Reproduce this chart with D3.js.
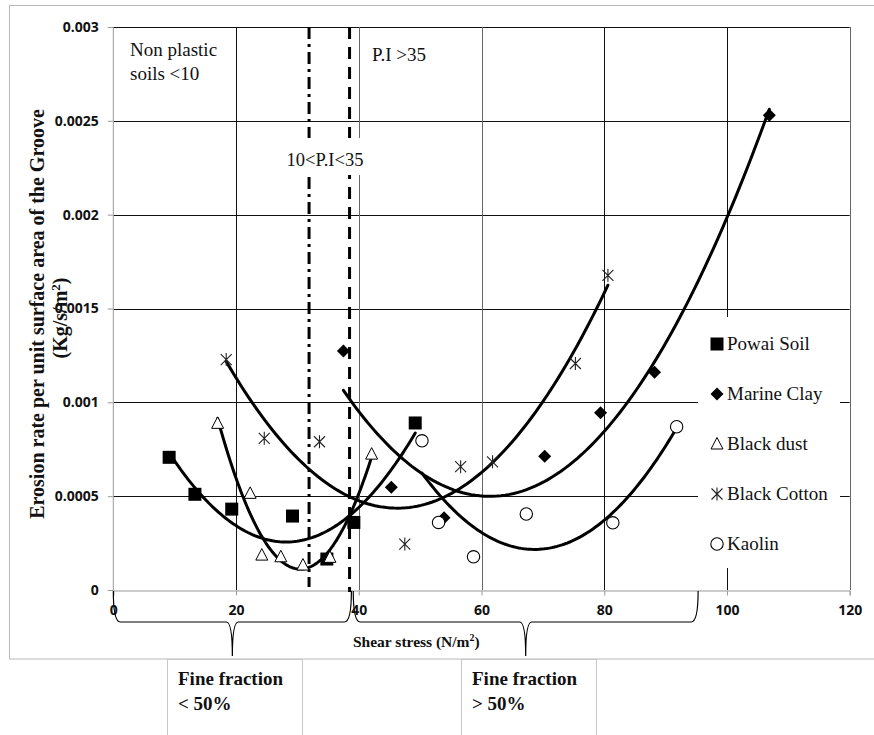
<!DOCTYPE html>
<html>
<head>
<meta charset="utf-8">
<script src="https://cdn.jsdelivr.net/npm/d3@7"></script>
<style>
    body { margin:0; background:#fff; }
    svg { display:block; }
</style>
</head>
<body>
<svg id="chart" width="874" height="735"></svg>
<script>
//DATA
const xTicks = [0, 20, 40, 60, 80, 100, 120];
const yTicks = [0, 0.0005, 0.001, 0.0015, 0.002, 0.0025, 0.003];
const yTickLabels = ["0", "0.0005", "0.001", "0.0015", "0.002", "0.0025", "0.003"];
const seriesNames = ["Powai Soil", "Marine Clay", "Black dust", "Black Cotton", "Kaolin"];

const powaiX = [9.1, 13.3, 19.3, 29.2, 34.8, 39.2, 49.2];
const powaiY = [0.000707, 0.00051, 0.000431, 0.000394, 0.000165, 0.00036, 0.00089];
const marineX = [37.5, 45.3, 53.9, 70.3, 79.4, 88.2, 106.9];
const marineY = [0.001274, 0.000547, 0.000385, 0.000713, 0.000944, 0.00116, 0.00253];
const dustX = [17.0, 22.3, 24.2, 27.3, 30.9, 35.3, 42.1];
const dustY = [0.000888, 0.000515, 0.000186, 0.000177, 0.000133, 0.000174, 0.000724];
const cottonX = [18.4, 24.6, 33.6, 47.5, 56.6, 61.8, 75.3, 80.6];
const cottonY = [0.001228, 0.000808, 0.00079, 0.000245, 0.000657, 0.000683, 0.001207, 0.001677];
const kaolinX = [50.3, 53.0, 58.7, 67.3, 81.4, 91.8];
const kaolinY = [0.000795, 0.00036, 0.000177, 0.000405, 0.000358, 0.00087];

//plasticity index boundaries (shear stress)
const piBoundaries = [31.9, 38.5];
//fine fraction braces [start, end]
const braces = [[0, 38.8], [39.1, 95.3]];

//DIMNS
const width = 874, height = 735;
const plot = { left:113.3, right:849.7, top:27, bottom:590 };
const serif = "'Liberation Serif', 'Times New Roman', serif";
const sans = "'Open Sans', 'Liberation Sans', sans-serif";

const svg = d3.select("#chart");

const x = d3.scaleLinear().domain([0, 120]).range([plot.left, plot.right]);
const y = d3.scaleLinear().domain([0, 0.003]).range([plot.bottom, plot.top]);

//helper - least squares quadratic (excel style poly 2 trendline)
function polyfit2(xs, ys){
    const S = k => d3.sum(xs, v => Math.pow(v, k));
    const T = k => d3.sum(xs, (v, i) => Math.pow(v, k) * ys[i]);
    const A = [[S(4), S(3), S(2)], [S(3), S(2), S(1)], [S(2), S(1), xs.length]];
    const b = [T(2), T(1), T(0)];
    //gaussian elimination
    for(let i = 0; i < 3; i++){
        for(let j = i + 1; j < 3; j++){
            const f = A[j][i] / A[i][i];
            for(let k = i; k < 3; k++){ A[j][k] -= f * A[i][k]; }
            b[j] -= f * b[i];
        }
    }
    const c = [0, 0, 0];
    for(let i = 2; i >= 0; i--){
        let s = b[i];
        for(let k = i + 1; k < 3; k++){ s -= A[i][k] * c[k]; }
        c[i] = s / A[i][i];
    }
    return v => c[0] * v * v + c[1] * v + c[2];
}

//outer chart border
svg.append("rect")
    .attr("x", 9.5).attr("y", 5.5)
    .attr("width", 880).attr("height", 653.5)
    .attr("fill", "none")
    .attr("stroke", "#b8b8b8")
    .attr("stroke-width", 1);

//gridlines
const gridG = svg.append("g").attr("class", "grid");
gridG.selectAll("line.h-grid").data(yTicks.slice(1))
    .join("line")
        .attr("class", "h-grid")
        .attr("x1", plot.left).attr("x2", plot.right)
        .attr("y1", d => Math.round(y(d)) + 0.5).attr("y2", d => Math.round(y(d)) + 0.5)
        .attr("stroke", "#111")
        .attr("stroke-width", 1);
gridG.selectAll("line.v-grid").data(xTicks.slice(1))
    .join("line")
        .attr("class", "v-grid")
        .attr("x1", d => Math.round(x(d)) + 0.5).attr("x2", d => Math.round(x(d)) + 0.5)
        .attr("y1", plot.top).attr("y2", plot.bottom)
        .attr("stroke", (d, i) => (d === 40 || d === 60 || d === 120) ? "#666" : "#111")
        .attr("stroke-width", 1);

//axes
const xAxis = d3.axisBottom(x).tickValues(xTicks).tickSize(5).tickFormat(d3.format("d"));
const yAxis = d3.axisLeft(y).tickValues(yTicks).tickSize(5).tickFormat((d, i) => yTickLabels[i]);

svg.append("g")
    .attr("transform", `translate(0,${plot.bottom + 0.5})`)
    .call(xAxis)
    .call(g => g.select(".domain").attr("stroke", "#999"))
    .call(g => g.selectAll(".tick line").attr("stroke", "#999"))
    .call(g => g.selectAll(".tick text")
        .attr("font-family", sans).attr("font-weight", 700).attr("font-size", 14)
        .attr("fill", "#111").attr("y", 10).attr("dy", "1.05em"));

svg.append("g")
    .attr("transform", `translate(${plot.left - 0.5},0)`)
    .call(yAxis)
    .call(g => g.select(".domain").attr("stroke", "#999"))
    .call(g => g.selectAll(".tick line").attr("stroke", "#999"))
    .call(g => g.selectAll(".tick text")
        .attr("font-family", sans).attr("font-weight", 700).attr("font-size", 14)
        .attr("fill", "#111").attr("x", -14));

//plasticity boundaries (dash-dot and dashed)
svg.selectAll("line.pi-boundary").data(piBoundaries)
    .join("line")
        .attr("class", "pi-boundary")
        .attr("x1", d => x(d)).attr("x2", d => x(d))
        .attr("y1", plot.top).attr("y2", (d, i) => i === 0 ? plot.bottom - 3 : plot.bottom + 2)
        .attr("stroke", "#000")
        .attr("stroke-width", 3)
        .attr("stroke-dasharray", (d, i) => i === 0 ? "12,5,3,5" : "12,8");

//series
const series = [
    { name:seriesNames[0], xs:powaiX, ys:powaiY, symbol:"square" },
    { name:seriesNames[1], xs:marineX, ys:marineY, symbol:"diamond" },
    { name:seriesNames[2], xs:dustX, ys:dustY, symbol:"triangle" },
    { name:seriesNames[3], xs:cottonX, ys:cottonY, symbol:"asterisk" },
    { name:seriesNames[4], xs:kaolinX, ys:kaolinY, symbol:"circle" }
];

//trendlines
const line = d3.line().x(d => x(d[0])).y(d => y(d[1])).curve(d3.curveLinear);
series.forEach(s => {
    const f = polyfit2(s.xs, s.ys);
    const [x0, x1] = d3.extent(s.xs);
    const pts = d3.range(0, 101).map(k => {
        const v = x0 + (x1 - x0) * k / 100;
        return [v, f(v)];
    });
    svg.append("path")
        .attr("class", "trend")
        .attr("d", line(pts))
        .attr("fill", "none")
        .attr("stroke", "#000")
        .attr("stroke-width", 3)
        .attr("stroke-linecap", "round");
});

//markers
function drawMarker(g, type){
    if(type === "square"){
        g.append("rect").attr("x", -6.5).attr("y", -6.5).attr("width", 13).attr("height", 13).attr("fill", "#000");
    }else if(type === "diamond"){
        g.append("path").attr("d", "M0,-6.5L6.5,0L0,6.5L-6.5,0Z").attr("fill", "#000");
    }else if(type === "triangle"){
        g.append("path").attr("d", "M0,-6.5L6,5L-6,5Z").attr("fill", "#fff").attr("stroke", "#000").attr("stroke-width", 1);
    }else if(type === "asterisk"){
        g.append("path").attr("d", "M-5.5,-5.5L5.5,5.5M-5.5,5.5L5.5,-5.5M0,-6.5L0,6.5")
            .attr("fill", "none").attr("stroke", "#222").attr("stroke-width", 1.1);
    }else{
        g.append("circle").attr("r", 6.2).attr("fill", "#fff").attr("stroke", "#000").attr("stroke-width", 1.1);
    }
}

series.forEach(s => {
    const pts = s.xs.map((v, i) => [v, s.ys[i]]);
    svg.append("g").attr("class", "markers")
        .selectAll("g.marker").data(pts)
        .join("g")
            .attr("class", "marker")
            .attr("transform", d => `translate(${x(d[0])},${y(d[1])})`)
            .each(function(){ drawMarker(d3.select(this), s.symbol); });
});

//legend
const legendG = svg.append("g").attr("class", "legend");
legendG.append("rect")
    .attr("x", 698).attr("y", 317)
    .attr("width", 142).attr("height", 251)
    .attr("fill", "#fff");
series.forEach((s, i) => {
    const ly = 344 + i * 50;
    const itemG = legendG.append("g").attr("transform", `translate(717,${ly})`);
    drawMarker(itemG, s.symbol);
    legendG.append("text")
        .attr("x", 727).attr("y", ly + 6)
        .attr("font-family", serif).attr("font-size", 19)
        .attr("fill", "#111")
        .text(s.name);
});

//zone annotations
const annG = svg.append("g").attr("class", "annotations")
    .attr("font-family", serif).attr("fill", "#111");
annG.append("text").attr("x", 130).attr("y", 56).attr("font-size", 19).text("Non plastic");
annG.append("text").attr("x", 130).attr("y", 80).attr("font-size", 19).text("soils <10");
annG.append("text").attr("x", 372).attr("y", 61).attr("font-size", 19).text("P.I >35");
annG.append("rect").attr("x", 284).attr("y", 138).attr("width", 82).attr("height", 37).attr("fill", "#fff");
annG.append("text").attr("x", 325).attr("y", 166).attr("font-size", 18.5)
    .attr("text-anchor", "middle").text("10<P.I<35");

//y axis title
const yTitle = svg.append("text")
    .attr("transform", `translate(44,314) rotate(-90)`)
    .attr("font-family", serif).attr("font-weight", 700).attr("font-size", 20)
    .attr("text-anchor", "middle").attr("fill", "#111");
yTitle.append("tspan").attr("x", 0).attr("dy", 0).text("Erosion rate per unit surface area of the Groove");
const yTitle2 = svg.append("text")
    .attr("transform", `translate(67,318) rotate(-90)`)
    .attr("font-family", serif).attr("font-weight", 700).attr("font-size", 20)
    .attr("text-anchor", "middle").attr("fill", "#111");
yTitle2.append("tspan").text("(Kg/s/m");
yTitle2.append("tspan").attr("font-size", 13).attr("dy", -7).text("2");
yTitle2.append("tspan").attr("dy", 7).text(")");

//curly braces under x axis
function bracePath(xa, xb){
    const xm = (xa + xb) / 2;
    const top = plot.bottom + 1, mid = 622, dip = 656;
    return `M${xa},${top} Q${xa},${mid} ${xa + 7},${mid} L${xm - 6},${mid}`
        + ` Q${xm},${mid} ${xm},${dip} Q${xm},${mid} ${xm + 6},${mid}`
        + ` L${xb - 7},${mid} Q${xb},${mid} ${xb},${top}`;
}
svg.selectAll("path.brace").data(braces)
    .join("path")
        .attr("class", "brace")
        .attr("d", d => bracePath(x(d[0]), x(d[1])))
        .attr("fill", "none")
        .attr("stroke", "#000")
        .attr("stroke-width", 1.2);

//x axis title
const xTitle = svg.append("text")
    .attr("x", 353).attr("y", 647)
    .attr("font-family", serif).attr("font-weight", 700).attr("font-size", 15.5)
    .attr("fill", "#111")
    .text("Shear stress (N/m");
xTitle.append("tspan").attr("font-size", 10).attr("dy", -6).text("2");
xTitle.append("tspan").attr("dy", 6).text(")");

//fine fraction boxes
const boxes = [
    { x:167, lines:["Fine fraction", "< 50%"] },
    { x:461, lines:["Fine fraction", "> 50%"] }
];
boxes.forEach(b => {
    svg.append("rect")
        .attr("x", b.x + 0.5).attr("y", 659.5)
        .attr("width", 135).attr("height", 100)
        .attr("fill", "#fff")
        .attr("stroke", "#c8c8c8");
    b.lines.forEach((t, i) => {
        svg.append("text")
            .attr("x", b.x + 11).attr("y", 685 + i * 25)
            .attr("font-family", serif).attr("font-weight", 700).attr("font-size", 19)
            .attr("fill", "#111")
            .text(t);
    });
});
</script>
</body>
</html>
